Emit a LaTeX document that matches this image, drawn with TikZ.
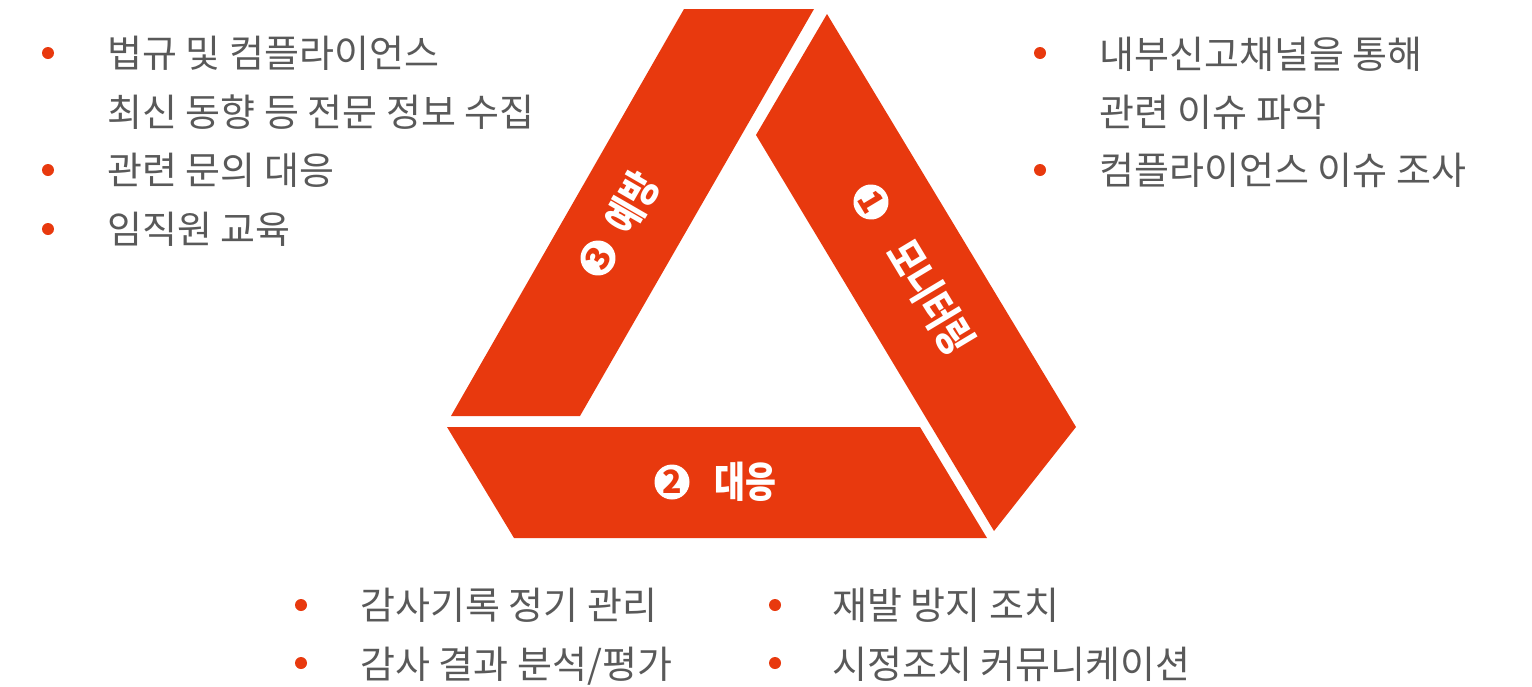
\documentclass[tikz,border=0pt]{standalone}
\usepackage{fontspec}
\setmainfont{Noto Sans CJK KR}
\newfontfamily\tagfont[FakeStretch=0.8]{Noto Sans CJK KR}
\definecolor{flame}{RGB}{232,57,14}
\definecolor{ink}{RGB}{89,89,89}
\begin{document}
\begin{tikzpicture}[x=0.5pt, y=-0.5pt,
	band/.style={fill=flame},
	dot/.style={circle, fill=flame, inner sep=0pt, minimum size=6pt},
	item/.style={anchor=base west, inner sep=0pt, text=ink, font=\fontsize{19}{29}\selectfont},
	num/.style={circle, fill=white, inner sep=0pt, minimum size=17.5pt, text=flame, font=\fontsize{16}{16}\selectfont\bfseries},
	tag/.style={inner sep=0pt, text=white, font=\tagfont\fontsize{21}{21}\selectfont\bfseries}]
	\useasboundingbox (0,0) rectangle (1532,686);
	% the three bands
	\fill[band] (684,9) -- (814,9) -- (580,416) -- (451,416) -- cycle;
	\fill[band] (827,14) -- (1076,427) -- (994,531) -- (756,135) -- cycle;
	\fill[band] (447,427) -- (920,427) -- (987,538) -- (514,538) -- cycle;
	% band labels
	\node[num, rotate=-59] (n1) at (871,202) {1};
	\node[tag, rotate=-59] (monitor) at (931,297) {모니터링};
	\node[num] (n2) at (672,482) {2};
	\node[tag] (respond) at (745,482) {대응};
	\node[num, rotate=60] (n3) at (598,258) {3};
	\node[tag, rotate=60] (prevent) at (632,203) {예방};
	% prevention list
	\node[dot] (p1) at (48,53) {};
	\node[item] (pt1) at (107,67) {법규 및 컴플라이언스};
	\node[item] (pt1b) at (107,126) {최신 동향 등 전문 정보 수집};
	\node[dot] (p2) at (48,170) {};
	\node[item] (pt2) at (107,184) {관련 문의 대응};
	\node[dot] (p3) at (48,229) {};
	\node[item] (pt3) at (107,243) {임직원 교육};
	% monitoring list
	\node[dot] (m1) at (1040,53) {};
	\node[item] (mt1) at (1099,68) {내부신고채널을 통해};
	\node[item] (mt1b) at (1099,126) {관련 이슈 파악};
	\node[dot] (m2) at (1040,170) {};
	\node[item] (mt2) at (1099,184) {컴플라이언스 이슈 조사};
	% response list
	\node[dot] (r1) at (301,605) {};
	\node[item] (rt1) at (360,619) {감사기록 정기 관리};
	\node[dot] (r2) at (301,663) {};
	\node[item] (rt2) at (360,678) {감사 결과 분석/평가};
	\node[dot] (r3) at (775,605) {};
	\node[item] (rt3) at (832,619) {재발 방지 조치};
	\node[dot] (r4) at (775,663) {};
	\node[item] (rt4) at (832,678) {시정조치 커뮤니케이션};
\end{tikzpicture}
\end{document}
